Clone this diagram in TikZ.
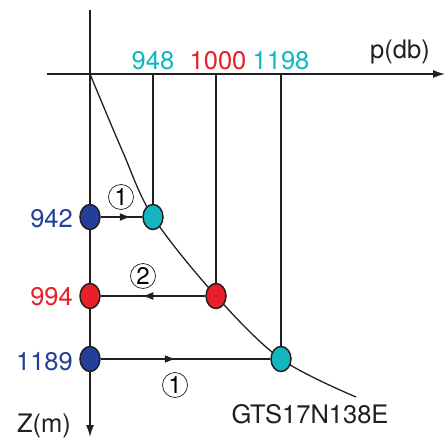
\documentclass[tikz,border=0pt]{standalone}
\usepackage{fontspec}
\setmainfont{TeX Gyre Heros}
\usetikzlibrary{arrows.meta,shapes.geometric,decorations.markings}

\definecolor{navy}{HTML}{22409A}
\definecolor{teal}{HTML}{13B5BF}
\definecolor{crimson}{HTML}{E8202A}
\definecolor{ink}{HTML}{231F20}

\tikzset{
  axis/.style={draw=ink, line width=1.5pt, -{Latex[length=12pt,width=8pt]}},
  guide/.style={draw=ink, line width=1.5pt},
  station/.style={ellipse, draw=ink, line width=1.5pt, minimum width=20pt, minimum height=25pt, inner sep=0pt},
  lbl/.style={font=\fontsize{25.5}{30}\selectfont, inner sep=0pt},
  stepnum/.style={circle, draw=ink, line width=0.7pt, minimum size=25pt, inner sep=0pt, font=\fontsize{24}{26}\selectfont},
  flow/.style={guide, postaction={decorate}},
}

\begin{document}
\begin{tikzpicture}[x=1pt,y=-1pt]
\useasboundingbox (0,0) rectangle (445,439);

% axes
\coordinate (O) at (90,74);
\coordinate (xstart) at (47,74);
\coordinate (xend) at (445,74);
\coordinate (ztop) at (90,10);
\coordinate (zend) at (90,437);
\draw[axis] (xstart) -- (xend);
\draw[axis] (ztop) -- (zend);

% profile curve
\draw[guide, line width=1.3pt] plot[smooth, tension=0.55] coordinates {(90,74) (122,150) (153,217) (216,296) (281,359) (356,397)};

% stations
\node[station, fill=navy]    (b1) at (90,217) {};
\node[station, fill=teal]    (c1) at (153,217) {};
\node[station, fill=crimson] (r1) at (90,296) {};
\node[station, fill=crimson] (r2) at (216,296) {};
\node[station, fill=navy]    (b2) at (90,359) {};
\node[station, fill=teal]    (c2) at (281,359) {};

% pressure guides
\coordinate (g1) at (153,74);
\coordinate (g2) at (216,74);
\coordinate (g3) at (281,74);
\draw[guide] (g1) -- (c1.north);
\draw[guide] (g2) -- (r2.north);
\draw[guide] (g3) -- (c2.north);

% transfers
\draw[flow, decoration={markings, mark=at position 30pt with {\arrow{Latex[length=11pt,width=8pt]}}}] (b1.east) -- (c1.west);
\draw[flow, decoration={markings, mark=at position 63pt with {\arrow{Latex[length=11pt,width=8pt]}}}] (r2.west) -- (r1.east);
\draw[flow, decoration={markings, mark=at position 75pt with {\arrow{Latex[length=11pt,width=8pt]}}}] (b2.east) -- (c2.west);

% step numbers
\node[stepnum] (s1) at (121,197) {1};
\node[stepnum] (s2) at (143,276) {2};
\node[stepnum] (s3) at (175,385) {1};

% labels
\node[lbl, anchor=base, text=teal]    (l948)  at (153,69) {948};
\node[lbl, anchor=base, text=crimson] (l1000) at (218,69) {1000};
\node[lbl, anchor=base, text=teal]    (l1198) at (281,69) {1198};
\node[lbl, anchor=base, text=ink]     (lp)    at (400,58) {p(db)};

\node[lbl, anchor=base east, text=navy]    (l942)  at (73,227) {942};
\node[lbl, anchor=base east, text=crimson] (l994)  at (73,305) {994};
\node[lbl, anchor=base east, text=navy]    (l1189) at (73,370) {1189};

\node[lbl, anchor=base, text=ink] (lz)   at (44,432) {Z(m)};
\node[lbl, anchor=base, text=ink] (lgts) at (310,423) {GTS17N138E};
\end{tikzpicture}
\end{document}
